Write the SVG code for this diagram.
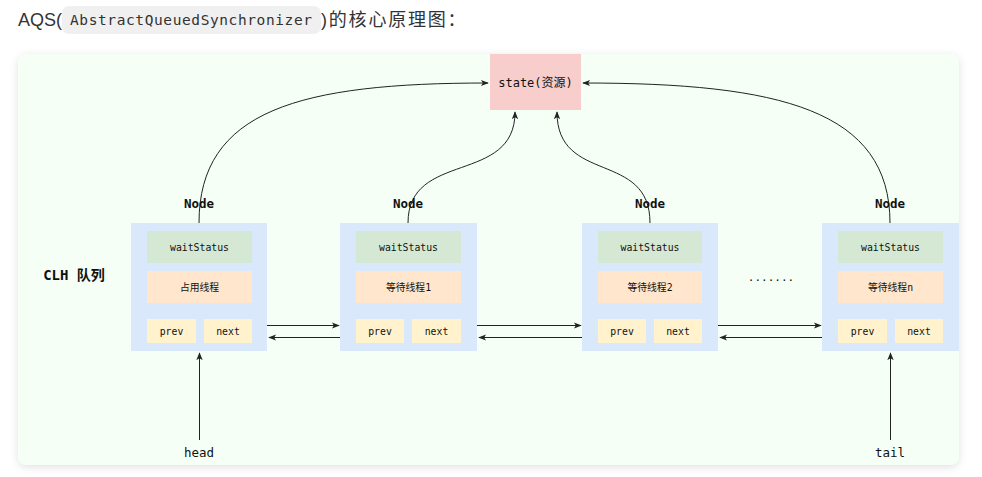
<svg xmlns="http://www.w3.org/2000/svg" width="982" height="477" viewBox="0 0 982 477">
<style>
.title{font-family:"Liberation Sans","Noto Sans CJK SC",sans-serif;font-size:18px;fill:#333}
.code{font-family:"DejaVu Sans Mono","Liberation Mono",monospace;font-size:14.5px;fill:#333}
.m{font-family:"DejaVu Sans Mono","Noto Sans CJK SC",monospace;fill:#111;text-anchor:middle;dominant-baseline:central}
.s{font-size:9.8px}
.b{font-size:12.5px;font-weight:bold}
.clh{font-size:14px;font-weight:bold}
.outer{fill:#dae8fc}
.ws{fill:#d5e8d4}
.th{fill:#ffe6cc}
.pn{fill:#fff2cc}
.ln{fill:none;stroke:#222;stroke-width:1}
</style>
<defs>
<filter id="sh" x="-5%" y="-5%" width="110%" height="115%">
<feDropShadow dx="0" dy="2" stdDeviation="4" flood-color="#000" flood-opacity="0.12"/>
</filter>
<marker id="ar" viewBox="0 0 10 10" refX="9" refY="5" markerWidth="8" markerHeight="8" orient="auto" markerUnits="userSpaceOnUse">
<path d="M0,1 L10,5 L0,9 L2.5,5 z" fill="#222"/>
</marker>
</defs>
<rect width="982" height="477" fill="#fff"/>
<g id="title">
<text class="title" x="18" y="26">AQS(</text>
<rect x="62" y="6" width="259" height="28" rx="7" fill="#f0f0f0"/>
<text class="code" x="70" y="25" textLength="242" lengthAdjust="spacing">AbstractQueuedSynchronizer</text>
<text class="title" x="321" y="26" letter-spacing="1.8">)的核心原理图：</text>
</g>
<rect id="container" x="18" y="54" width="941" height="411" rx="9" fill="#f5fff6" filter="url(#sh)"/>
<g id="state">
<rect x="490" y="54" width="91" height="56" fill="#f8cecc"/>
<text class="m" x="535.5" y="83" font-size="12">state(资源)</text>
</g>
<g id="connectors">
<path class="ln" d="M199 223 C199 110 300 83 488 83" marker-end="url(#ar)"/>
<path class="ln" d="M408 223 C408 150 515 185 515 112" marker-end="url(#ar)"/>
<path class="ln" d="M650 223 C650 150 557 185 557 112" marker-end="url(#ar)"/>
<path class="ln" d="M890 223 C890 110 780 83 583 83" marker-end="url(#ar)"/>
<path class="ln" d="M252 325.5 L339 325.5" marker-end="url(#ar)"/>
<path class="ln" d="M356 337.5 L269 337.5" marker-end="url(#ar)"/>
<path class="ln" d="M461 325.5 L581 325.5" marker-end="url(#ar)"/>
<path class="ln" d="M598 337.5 L479 337.5" marker-end="url(#ar)"/>
<path class="ln" d="M702 325.5 L821 325.5" marker-end="url(#ar)"/>
<path class="ln" d="M838 337.5 L720 337.5" marker-end="url(#ar)"/>
<path class="ln" d="M199.5 440 L199.5 353" marker-end="url(#ar)"/>
<path class="ln" d="M890.5 440 L890.5 353" marker-end="url(#ar)"/>
</g>
<g id="node1">
<rect class="outer" x="131" y="223" width="136" height="128"/>
<rect class="ws" x="147" y="231" width="105" height="32"/>
<rect class="th" x="147" y="271" width="105" height="32"/>
<rect class="pn" x="147" y="319" width="49" height="24"/>
<rect class="pn" x="204" y="319" width="48" height="24"/>
<text class="m s" x="199.5" y="247">waitStatus</text>
<text class="m s" x="199.5" y="287">占用线程</text>
<text class="m s" x="171.5" y="331">prev</text>
<text class="m s" x="228" y="331">next</text>
</g>
<g id="node2">
<rect class="outer" x="340" y="223" width="137" height="128"/>
<rect class="ws" x="356" y="231" width="105" height="32"/>
<rect class="th" x="356" y="271" width="105" height="32"/>
<rect class="pn" x="356" y="319" width="48" height="24"/>
<rect class="pn" x="412" y="319" width="49" height="24"/>
<text class="m s" x="408.5" y="247">waitStatus</text>
<text class="m s" x="408.5" y="287">等待线程1</text>
<text class="m s" x="380" y="331">prev</text>
<text class="m s" x="436.5" y="331">next</text>
</g>
<g id="node3">
<rect class="outer" x="582" y="223" width="136" height="128"/>
<rect class="ws" x="598" y="231" width="104" height="32"/>
<rect class="th" x="598" y="271" width="104" height="32"/>
<rect class="pn" x="598" y="319" width="48" height="24"/>
<rect class="pn" x="654" y="319" width="48" height="24"/>
<text class="m s" x="650" y="247">waitStatus</text>
<text class="m s" x="650" y="287">等待线程2</text>
<text class="m s" x="622" y="331">prev</text>
<text class="m s" x="678" y="331">next</text>
</g>
<g id="node4">
<rect class="outer" x="822" y="223" width="137" height="128"/>
<rect class="ws" x="838" y="231" width="105" height="32"/>
<rect class="th" x="838" y="271" width="105" height="32"/>
<rect class="pn" x="838" y="319" width="49" height="24"/>
<rect class="pn" x="895" y="319" width="48" height="24"/>
<text class="m s" x="890.5" y="247">waitStatus</text>
<text class="m s" x="890.5" y="287">等待线程n</text>
<text class="m s" x="862.5" y="331">prev</text>
<text class="m s" x="919" y="331">next</text>
</g>
<g id="labels">
<text class="m b" x="199" y="203">Node</text>
<text class="m b" x="408" y="203">Node</text>
<text class="m b" x="650" y="203">Node</text>
<text class="m b" x="890" y="203">Node</text>
<text class="m clh" x="74" y="275">CLH 队列</text>
<text class="m" x="771" y="277" font-size="11">.......</text>
<text class="m" x="199" y="452" font-size="12.5">head</text>
<text class="m" x="890" y="452" font-size="12.5">tail</text>
</g>
</svg>
